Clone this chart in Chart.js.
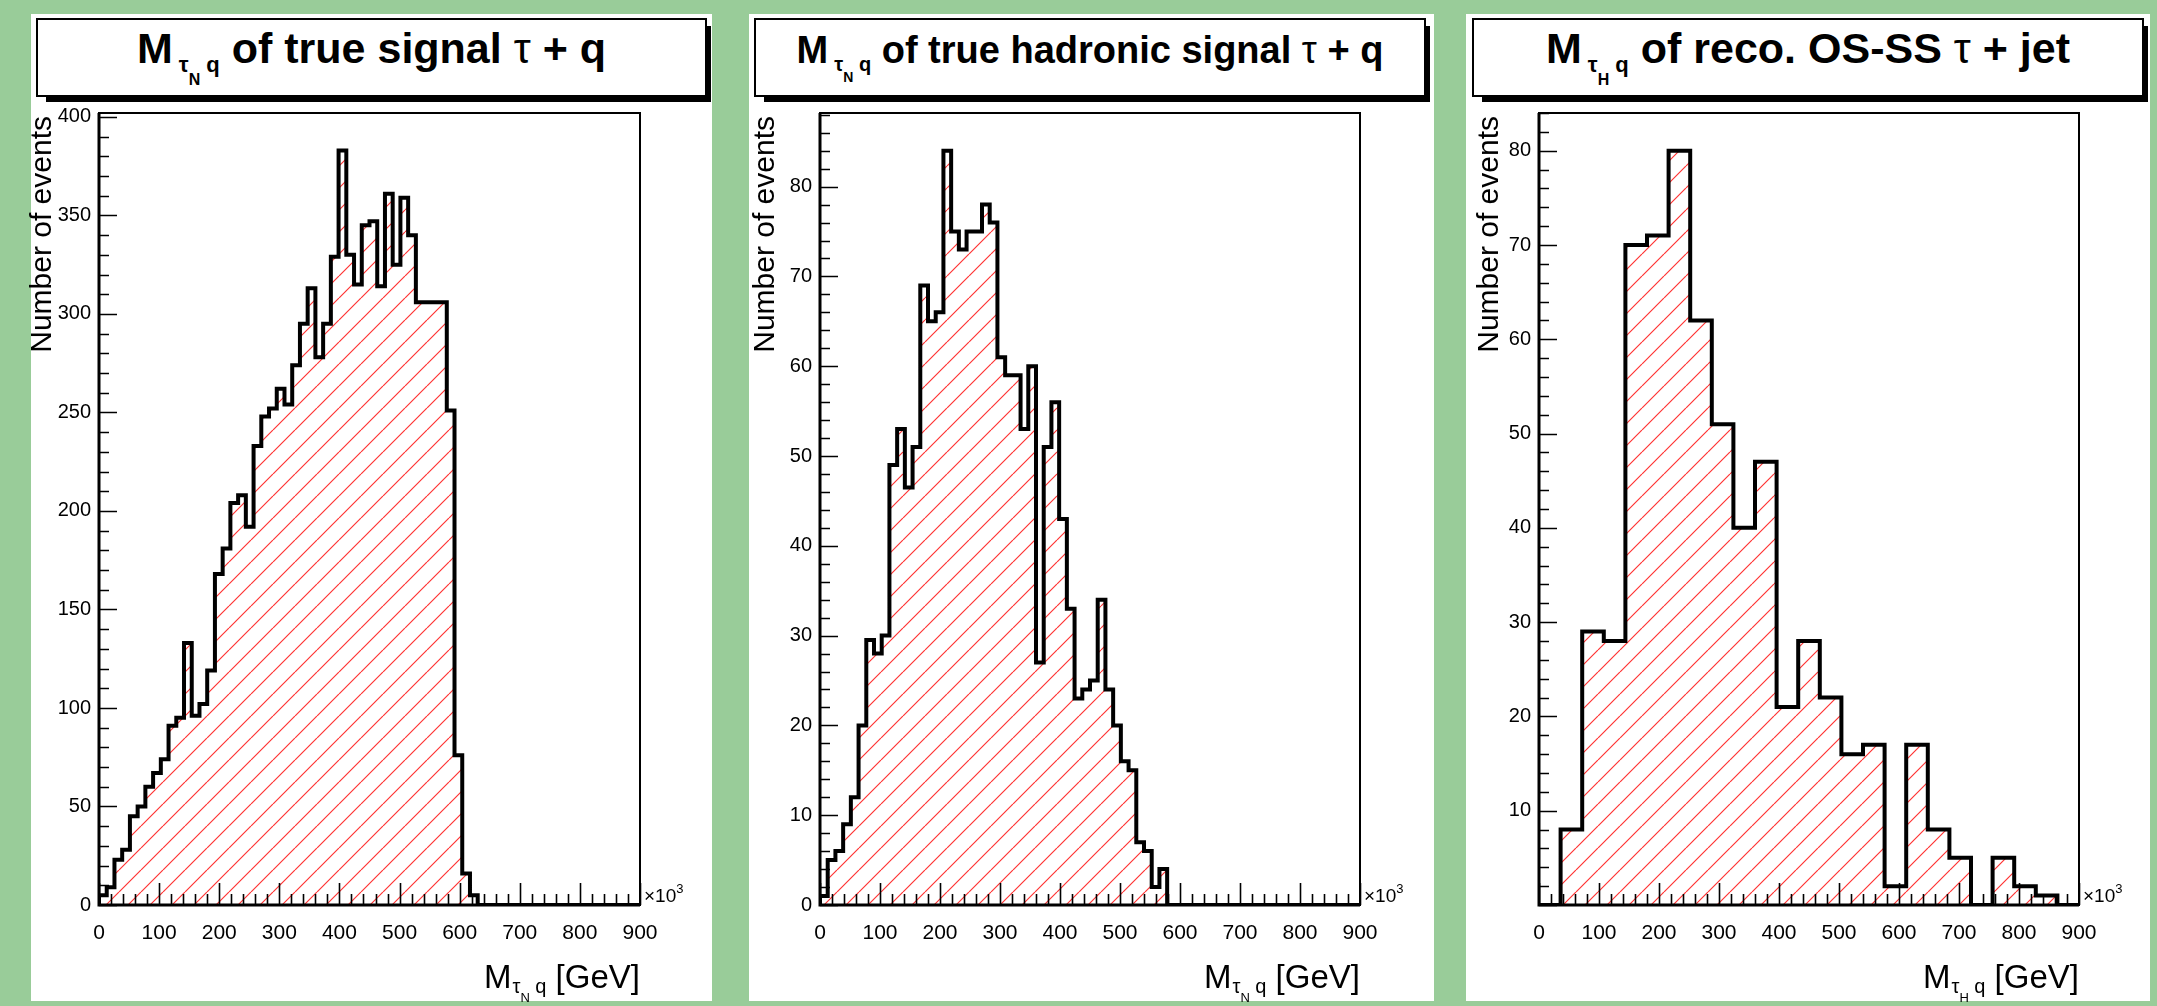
<!DOCTYPE html>
<html>
<head>
<meta charset="utf-8">
<script src="https://cdn.jsdelivr.net/npm/chart.js@4.4.1/dist/chart.umd.min.js"></script>
<style>
html,body{margin:0;padding:0;background:#99cc99;}
body{width:2157px;height:1006px;position:relative;overflow:hidden;font-family:"Liberation Sans",Arial,Helvetica,sans-serif;color:#000;}
.pad{position:absolute;background:#fff;}
.pave{position:absolute;background:#fff;border:2px solid #000;box-sizing:border-box;}
.shadow{position:absolute;background:#000;}
canvas{position:absolute;}
.ttl{position:absolute;white-space:nowrap;font-weight:bold;text-align:center;z-index:3;}
.ttl .s1,.xtl .s1{position:relative;line-height:0;}
.ttl .s2,.xtl .s2{position:relative;line-height:0;}
.ttl .tau{font-weight:normal;}
.ytl{position:absolute;white-space:nowrap;font-size:30px;line-height:30px;width:300px;text-align:right;transform-origin:0 0;transform:rotate(-90deg);z-index:3;}
.xtl{position:absolute;white-space:nowrap;font-size:33px;line-height:33px;width:400px;text-align:right;z-index:3;}
.exp{position:absolute;white-space:nowrap;font-size:19px;line-height:19px;z-index:3;}
.exp sup{font-size:13px;position:relative;top:-2px;line-height:0;}
</style>
</head>
<body>
<script>
// x axis shared by the three histograms (in units of 10^3)
const X_MIN=0, X_MAX=900;
const X_TICK_STEP=100, X_MINOR_STEP=20;

// M(tau_N q) of true signal tau + q, 70 bins 0..900
const SIGNAL_COUNTS=[
  5,9,23,28,45,50,60,67,74,91,
  95,133,96,102,119,168,181,204,208,192,
  233,248,252,262,254,274,295,313,278,295,
  329,383,330,315,345,347,314,361,325,359,
  340,306,306,306,306,251,76,16,5,0,
  0,0,0,0,0,0,0,0,0,0,
  0,0,0,0,0,0,0,0,0,0
];

// M(tau_N q) of true hadronic signal tau + q, 70 bins 0..900
const HADRONIC_COUNTS=[
  1,5,6,9,12,20,29.5,28,30,49,
  53,46.5,51,69,65,66,84,75,73,75,
  75,78,76,61,59,59,53,60,27,51,
  56,43,33,23,24,25,34,24,20,16,
  15,7,6,2,4,0,0,0,0,0,
  0,0,0,0,0,0,0,0,0,0,
  0,0,0,0,0,0,0,0,0,0
];

// M(tau_H q) of reco. OS-SS tau + jet, 25 bins 0..900
const RECO_COUNTS=[0,8,29,28,70,71,80,62,51,40,47,21,28,22,16,17,2,17,8,5,0,5,2,1,0];

// y axes: top of frame, labelled ticks, minor tick step
const Y_MAX=[402,88.2,84];
const Y_LABELS=[
  [0,50,100,150,200,250,300,350,400],
  [0,10,20,30,40,50,60,70,80],
  [10,20,30,40,50,60,70,80]
];
const Y_MINOR_STEP=[10,2,2];

const TITLE_SUB=['N','N','H'];
const TITLE_MID=[' of true signal ',' of true hadronic signal ',' of reco. OS-SS '];
const TITLE_END=[' + q',' + q',' + jet'];
const Y_TITLE='Number of events';

// layout (page pixels)
const FRAME_TOP=113, FRAME_BOTTOM=905, CANVAS_TOP=100, PAD_TOP=14, PAD_BOTTOM=1001;
const PANELS=[
  {pad:[31,712],   frame:[99,640],    pave:[36,707],    titleSize:43, yTitleX:41},
  {pad:[749,1434], frame:[820,1360],  pave:[754,1426],  titleSize:38, yTitleX:764},
  {pad:[1466,2150],frame:[1539,2079], pave:[1472,2144], titleSize:43, yTitleX:1488}
];
const SERIES=[SIGNAL_COUNTS,HADRONIC_COUNTS,RECO_COUNTS];

Chart.defaults.font.family='"Liberation Sans", Arial, Helvetica, sans-serif';
Chart.defaults.color='#000';

function el(tag,cls,css,html){
  const e=document.createElement(tag);
  if(cls)e.className=cls;
  Object.assign(e.style,css||{});
  if(html!=null)e.innerHTML=html;
  document.body.appendChild(e);
  return e;
}

function hatchPattern(){
  const s=22,tile=document.createElement('canvas');
  tile.width=tile.height=s;
  const g=tile.getContext('2d');
  g.strokeStyle='rgba(255,0,0,0.8)';g.lineWidth=1.2;
  g.beginPath();
  [-s,0,s].forEach(o=>{g.moveTo(o,s);g.lineTo(o+s,0);});
  g.stroke();
  return g.createPattern(tile,'repeat');
}

function histPoints(counts){
  const w=(X_MAX-X_MIN)/counts.length;
  const pts=[{x:X_MIN,y:0}];
  counts.forEach((v,i)=>pts.push({x:X_MIN+i*w,y:v}));
  pts.push({x:X_MAX,y:0});
  return pts;
}

// ROOT style: ticks inside the frame, thicker axis lines
const rootAxes={
  id:'rootAxes',
  afterDatasetsDraw(chart,args,o){
    const {ctx,chartArea:a,scales:{x,y}}=chart;
    ctx.save();
    ctx.strokeStyle='#000';ctx.lineWidth=1.6;
    ctx.beginPath();
    const nx=Math.round((X_MAX-X_MIN)/X_MINOR_STEP);
    for(let i=0;i<=nx;i++){
      const v=X_MIN+i*X_MINOR_STEP;
      const px=Math.round(x.getPixelForValue(v))+0.5;
      const len=(v%X_TICK_STEP===0)?22:11;
      ctx.moveTo(px,a.bottom);ctx.lineTo(px,a.bottom-len);
    }
    const ny=Math.floor(o.max/o.minor+1e-6);
    for(let i=0;i<=ny;i++){
      const v=i*o.minor;
      const py=Math.round(y.getPixelForValue(v))+0.5;
      const len=(Math.abs(v/o.major-Math.round(v/o.major))<1e-6)?18:10;
      ctx.moveTo(a.left,py);ctx.lineTo(a.left+len,py);
    }
    ctx.stroke();
    ctx.lineWidth=2;
    ctx.strokeRect(a.left,a.top,a.width,a.height);
    ctx.lineWidth=3;
    ctx.beginPath();
    ctx.moveTo(a.left,a.top);ctx.lineTo(a.left,a.bottom);ctx.lineTo(a.right,a.bottom);
    ctx.stroke();
    ctx.restore();
  }
};

const hatch=hatchPattern();

PANELS.forEach((p,i)=>{
  el('div','pad',{left:p.pad[0]+'px',top:PAD_TOP+'px',width:(p.pad[1]-p.pad[0])+'px',height:(PAD_BOTTOM-PAD_TOP)+'px'});
  // title pave with shadow
  el('div','shadow',{left:(p.pave[0]+10)+'px',top:'96px',width:(p.pave[1]-p.pave[0]-6)+'px',height:'6px'});
  el('div','shadow',{left:(p.pave[1]-2)+'px',top:'26px',width:'6px',height:'76px'});
  el('div','pave',{left:p.pave[0]+'px',top:'18px',width:(p.pave[1]-p.pave[0])+'px',height:'79px'});
  const fs=p.titleSize, sub=Math.round(fs*0.52), sub2=Math.round(fs*0.38);
  el('div','ttl',{left:p.pave[0]+'px',width:(p.pave[1]-p.pave[0])+'px',top:Math.round(63-fs*0.846)+'px',fontSize:fs+'px',lineHeight:fs+'px'},
    'M<span class="s1" style="font-size:'+sub+'px;top:'+Math.round(fs*0.22)+'px;margin-left:6px">τ<span class="s2" style="font-size:'+sub2+'px;top:'+Math.round(fs*0.3)+'px">'+TITLE_SUB[i]+'</span> q</span>'+
    TITLE_MID[i]+'<span class="tau">τ</span>'+TITLE_END[i]);

  // y axis title (rotated, aligned to top of axis)
  el('div','ytl',{left:(p.yTitleX-15)+'px',top:(FRAME_TOP+3+300)+'px'},Y_TITLE);
  // x axis title
  el('div','xtl',{left:(p.frame[1]-400)+'px',top:'960px'},
    'M<span class="s1" style="font-size:20px;top:5px;margin-left:1px">τ<span class="s2" style="font-size:13px;top:9px">'+TITLE_SUB[i]+'</span> q</span> [GeV]');
  el('div','exp',{left:(p.frame[1]+4)+'px',top:'886px'},'×10<sup>3</sup>');

  const cv=document.createElement('canvas');
  const cw=p.pad[1]-p.pad[0], ch=PAD_BOTTOM-CANVAS_TOP;
  cv.width=cw;cv.height=ch;
  Object.assign(cv.style,{left:p.pad[0]+'px',top:CANVAS_TOP+'px',width:cw+'px',height:ch+'px',zIndex:2});
  document.body.appendChild(cv);

  const labels=Y_LABELS[i];
  new Chart(cv,{
    type:'line',
    data:{datasets:[{
      data:histPoints(SERIES[i]),
      stepped:'before',
      borderColor:'#000',borderWidth:4,borderJoinStyle:'miter',borderCapStyle:'butt',
      backgroundColor:hatch,fill:'origin',
      pointRadius:0,tension:0
    }]},
    options:{
      responsive:false,animation:false,events:[],devicePixelRatio:1,
      layout:{padding:{top:FRAME_TOP-CANVAS_TOP,right:p.pad[1]-p.frame[1],left:0,bottom:0}},
      plugins:{legend:{display:false},tooltip:{enabled:false},
        rootAxes:{max:Y_MAX[i],major:labels[1]-labels[0],minor:Y_MINOR_STEP[i]}},
      scales:{
        x:{type:'linear',min:X_MIN,max:X_MAX,
          grid:{display:false,drawTicks:false},border:{display:false},
          ticks:{stepSize:X_TICK_STEP,includeBounds:false,maxRotation:0,autoSkip:false,padding:16,font:{size:21},color:'#000'},
          afterFit(s){s.height=PAD_BOTTOM-FRAME_BOTTOM;s.paddingLeft=0;s.paddingRight=0;}},
        y:{type:'linear',min:0,max:Y_MAX[i],
          grid:{display:false,drawTicks:false},border:{display:false},
          ticks:{autoSkip:false,padding:8,font:{size:20},color:'#000'},
          afterBuildTicks(s){s.ticks=labels.map(v=>({value:v}));},
          afterFit(s){s.width=p.frame[0]-p.pad[0];s.paddingTop=0;s.paddingBottom=0;}}
      }
    },
    plugins:[rootAxes]
  });
});
</script>
</body>
</html>
